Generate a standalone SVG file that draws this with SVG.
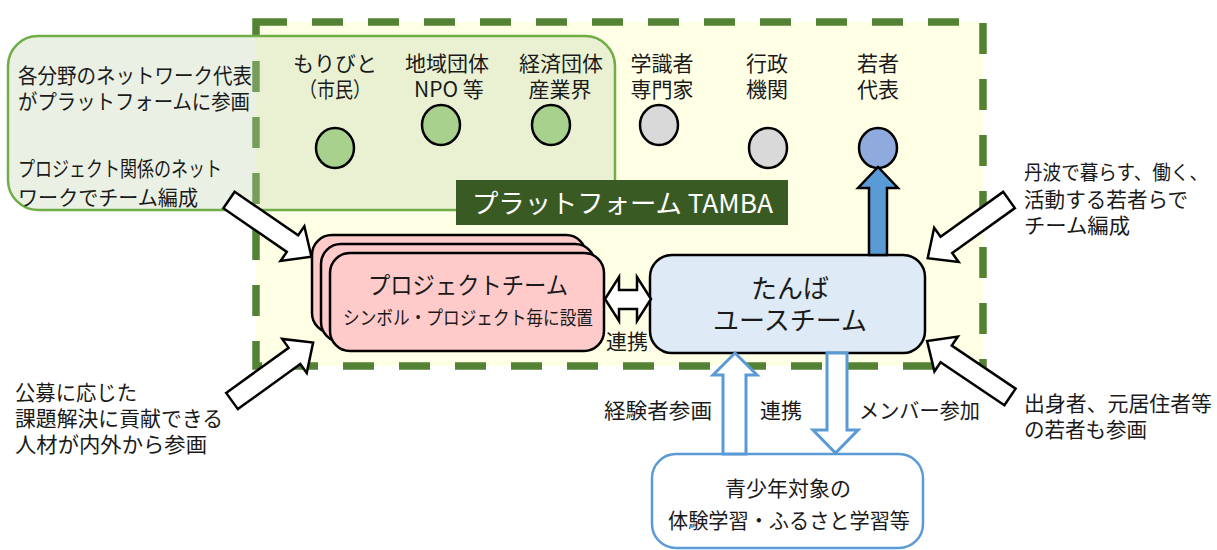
<svg xmlns="http://www.w3.org/2000/svg" xmlns:xlink="http://www.w3.org/1999/xlink" width="1217" height="550" viewBox="0 0 1217 550">
<style>
text{font-family:"Noto Sans CJK JP","Noto Sans",sans-serif;fill:#1a1a1a;}
.t21{font-size:21px;}
.t19{font-size:19px;}
.t24{font-size:24px;}
.t26{font-size:26px;}
.mid{text-anchor:middle;}
.circ{stroke:#000;stroke-width:2.5;}
.g{fill:#A9D18E;}
.gr{fill:#D9D9D9;}
.bl{fill:#8FAADC;}
.pt{fill:#FFCACA;stroke:#000;stroke-width:2.5;}
.wa{fill:#fff;stroke:#000;stroke-width:2.5;stroke-linejoin:miter;}
.ba{fill:#fff;stroke:#5B9BD5;stroke-width:3;}
</style>
<defs>
<path id="barrow" d="M0,-10 L77,-10 L77,-21 L100,0 L77,21 L77,10 L0,10 Z"/>
</defs>

<g id="platform">
<rect x="256" y="22" width="727" height="344" fill="#FFFFE6" stroke="#548235" stroke-width="7.5" stroke-dasharray="31 25"/>
</g>

<g id="network-box">
<rect x="8" y="36" width="607" height="174" rx="30" ry="30" fill="#C0D5AE" fill-opacity="0.33" stroke="#70AD47" stroke-width="2.5"/>
<text class="t21" x="18" y="83" textLength="234" lengthAdjust="spacingAndGlyphs">各分野のネットワーク代表</text>
<text class="t21" x="18" y="109" textLength="232" lengthAdjust="spacingAndGlyphs">がプラットフォームに参画</text>
<text class="t21" x="18" y="176" textLength="204" lengthAdjust="spacingAndGlyphs">プロジェクト関係のネット</text>
<text class="t21" x="18" y="205" textLength="180" lengthAdjust="spacingAndGlyphs">ワークでチーム編成</text>
</g>

<g id="node-moribito">
<text class="t21 mid" x="335" y="71">もりびと</text>
<text class="t21 mid" x="335" y="97" textLength="72" lengthAdjust="spacingAndGlyphs">（市民）</text>
<ellipse class="circ g" cx="335" cy="148" rx="19" ry="20"/>
</g>
<g id="node-chiiki">
<text class="t21 mid" x="447" y="71">地域団体</text>
<text class="t21 mid" x="449" y="97">NPO 等</text>
<ellipse class="circ g" cx="441" cy="125" rx="19" ry="20"/>
</g>
<g id="node-keizai">
<text class="t21 mid" x="561" y="71">経済団体</text>
<text class="t21 mid" x="560" y="97">産業界</text>
<ellipse class="circ g" cx="551" cy="125" rx="19" ry="20"/>
</g>
<g id="node-gakushiki">
<text class="t21 mid" x="662" y="71">学識者</text>
<text class="t21 mid" x="662" y="97">専門家</text>
<ellipse class="circ gr" cx="659" cy="125" rx="19" ry="20"/>
</g>
<g id="node-gyosei">
<text class="t21 mid" x="767" y="71">行政</text>
<text class="t21 mid" x="767" y="97">機関</text>
<ellipse class="circ gr" cx="768" cy="148" rx="19" ry="20"/>
</g>
<g id="node-wakamono">
<text class="t21 mid" x="878" y="71">若者</text>
<text class="t21 mid" x="878" y="97">代表</text>
<ellipse class="circ bl" cx="878" cy="148" rx="19" ry="20"/>
</g>

<g id="platform-label">
<rect x="456" y="180" width="332" height="45" fill="#3A5A23"/>
<text class="t26" x="472" y="213" textLength="301" lengthAdjust="spacingAndGlyphs" style="fill:#fff">プラットフォーム TAMBA</text>
</g>

<g id="project-team">
<rect class="pt" x="312" y="235" width="274" height="98" rx="20" ry="20"/>
<rect class="pt" x="321" y="244" width="274" height="98" rx="20" ry="20"/>
<rect class="pt" x="330" y="253" width="274" height="98" rx="20" ry="20"/>
<text class="t24 mid" x="468" y="294" textLength="200" lengthAdjust="spacingAndGlyphs">プロジェクトチーム</text>
<text class="t19 mid" x="468" y="325" textLength="250" lengthAdjust="spacingAndGlyphs">シンボル・プロジェクト毎に設置</text>
</g>

<g id="tanba-youth-team">
<rect x="650" y="255" width="275" height="98" rx="22" ry="22" fill="#DEEBF7" stroke="#000" stroke-width="2.5"/>
<text class="t26 mid" x="790" y="298">たんば</text>
<text class="t26 mid" x="790" y="330">ユースチーム</text>
</g>

<g id="youth-learning">
<rect x="652" y="454" width="271" height="94" rx="24" ry="24" fill="#fff" stroke="#5B9BD5" stroke-width="2.5"/>
<text class="t21 mid" x="788" y="496">青少年対象の</text>
<text class="t21 mid" x="789" y="528" textLength="242" lengthAdjust="spacingAndGlyphs">体験学習・ふるさと学習等</text>
</g>

<g id="connectors">
<polygon class="wa" points="605,299 619,277 619,290 637,290 637,277 651,299 637,321 637,309 619,309 619,321"/>
<text class="t21 mid" x="627" y="349">連携</text>
<polygon points="869,255 869,188 858,188 878,167 898,188 887,188 887,255" fill="#5B9BD5" stroke="#000" stroke-width="2.5"/>
<polygon class="ba" points="723,454 723,375 713,375 735,353 757,375 746,375 746,454"/>
<polygon class="ba" points="827,353 847,353 847,430 858,430 835.5,453 813,430 827,430"/>
<text class="t21" x="604" y="418" textLength="108" lengthAdjust="spacingAndGlyphs">経験者参画</text>
<text class="t21 mid" x="781" y="418">連携</text>
<text class="t21" x="859" y="418" textLength="121" lengthAdjust="spacingAndGlyphs">メンバー参加</text>
<use xlink:href="#barrow" href="#barrow" class="wa" transform="translate(229,200) rotate(34.5)"/>
<use xlink:href="#barrow" href="#barrow" class="wa" transform="translate(232,401) rotate(-35.8)"/>
<use xlink:href="#barrow" href="#barrow" class="wa" transform="translate(1009,200) rotate(144.4)"/>
<use xlink:href="#barrow" href="#barrow" class="wa" transform="translate(1010,397) rotate(-146)"/>
</g>

<g id="annotations">
<text class="t19" x="1024" y="180" textLength="184" lengthAdjust="spacingAndGlyphs" style="font-size:20px">丹波で暮らす、働く、</text>
<text class="t21" x="1024" y="207" textLength="164" lengthAdjust="spacingAndGlyphs">活動する若者らで</text>
<text class="t21" x="1024" y="233" textLength="106" lengthAdjust="spacingAndGlyphs">チーム編成</text>
<text class="t21" x="1024" y="411" textLength="188" lengthAdjust="spacingAndGlyphs">出身者、元居住者等</text>
<text class="t21" x="1024" y="437" textLength="123" lengthAdjust="spacingAndGlyphs">の若者も参画</text>
<text class="t21" x="15" y="400" textLength="122" lengthAdjust="spacingAndGlyphs">公募に応じた</text>
<text class="t21" x="15" y="426" textLength="208" lengthAdjust="spacingAndGlyphs">課題解決に貢献できる</text>
<text class="t21" x="15" y="452" textLength="192" lengthAdjust="spacingAndGlyphs">人材が内外から参画</text>
</g>
</svg>
